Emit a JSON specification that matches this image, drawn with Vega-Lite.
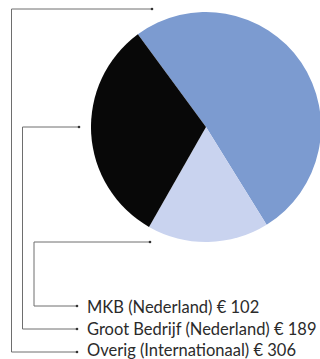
{
  "$schema": "https://vega.github.io/schema/vega-lite/v6.json",
  "width": 320,
  "height": 359,
  "autosize": "none",
  "padding": 0,
  "background": "white",
  "config": {"view": {"stroke": null}},
  "datasets": {
    "segments": [
      {"segment": "Overig (Internationaal)", "amount": 306, "rank": 1},
      {"segment": "MKB (Nederland)", "amount": 102, "rank": 2},
      {"segment": "Groot Bedrijf (Nederland)", "amount": 189, "rank": 3}
    ],
    "leaders": [
      {"segment": "MKB (Nederland)", "step": 1, "px": 150, "py": 242},
      {"segment": "MKB (Nederland)", "step": 2, "px": 34, "py": 242},
      {"segment": "MKB (Nederland)", "step": 3, "px": 34, "py": 306},
      {"segment": "MKB (Nederland)", "step": 4, "px": 77, "py": 306},
      {"segment": "Groot Bedrijf (Nederland)", "step": 1, "px": 79, "py": 127},
      {"segment": "Groot Bedrijf (Nederland)", "step": 2, "px": 22.5, "py": 127},
      {"segment": "Groot Bedrijf (Nederland)", "step": 3, "px": 22.5, "py": 329},
      {"segment": "Groot Bedrijf (Nederland)", "step": 4, "px": 77, "py": 329},
      {"segment": "Overig (Internationaal)", "step": 1, "px": 152, "py": 9},
      {"segment": "Overig (Internationaal)", "step": 2, "px": 11.5, "py": 9},
      {"segment": "Overig (Internationaal)", "step": 3, "px": 11.5, "py": 352},
      {"segment": "Overig (Internationaal)", "step": 4, "px": 77, "py": 352}
    ],
    "labels": [
      {"label": "MKB (Nederland) € 102", "px": 87, "py": 313},
      {"label": "Groot Bedrijf (Nederland) € 189", "px": 87, "py": 335},
      {"label": "Overig (Internationaal) € 306", "px": 87, "py": 356}
    ]
  },
  "layer": [
    {
      "data": {"name": "segments"},
      "mark": {"type": "arc", "outerRadius": 115, "stroke": null},
      "encoding": {
        "x": {"datum": 206, "type": "quantitative", "scale": {"domain": [0, 320], "nice": false, "zero": false}, "axis": null},
        "y": {"datum": 127, "type": "quantitative", "scale": {"domain": [0, 359], "nice": false, "zero": false, "reverse": true}, "axis": null},
        "theta": {"field": "amount", "type": "quantitative", "stack": true, "scale": {"range": [-0.634, 5.649]}},
        "order": {"field": "rank", "type": "quantitative"},
        "color": {
          "field": "segment",
          "type": "nominal",
          "legend": null,
          "scale": {
            "domain": ["Overig (Internationaal)", "MKB (Nederland)", "Groot Bedrijf (Nederland)"],
            "range": ["#7c9bd0", "#c9d3ef", "#080808"]
          }
        }
      }
    },
    {
      "data": {"name": "leaders"},
      "mark": {"type": "line", "stroke": "#6e6e6e", "strokeWidth": 1, "interpolate": "linear"},
      "encoding": {
        "x": {"field": "px", "type": "quantitative", "axis": null},
        "y": {"field": "py", "type": "quantitative", "axis": null},
        "detail": {"field": "segment"},
        "order": {"field": "step", "type": "quantitative"}
      }
    },
    {
      "data": {"name": "leaders"},
      "transform": [{"filter": "datum.step == 1 || datum.step == 4"}],
      "mark": {"type": "circle", "color": "#333333", "size": 7, "opacity": 1},
      "encoding": {
        "x": {"field": "px", "type": "quantitative"},
        "y": {"field": "py", "type": "quantitative"}
      }
    },
    {
      "data": {"name": "labels"},
      "mark": {"type": "text", "align": "left", "baseline": "alphabetic", "font": "Lato", "fontSize": 16.5, "color": "#2b2b2b"},
      "encoding": {
        "x": {"field": "px", "type": "quantitative"},
        "y": {"field": "py", "type": "quantitative"},
        "text": {"field": "label"}
      }
    }
  ]
}
